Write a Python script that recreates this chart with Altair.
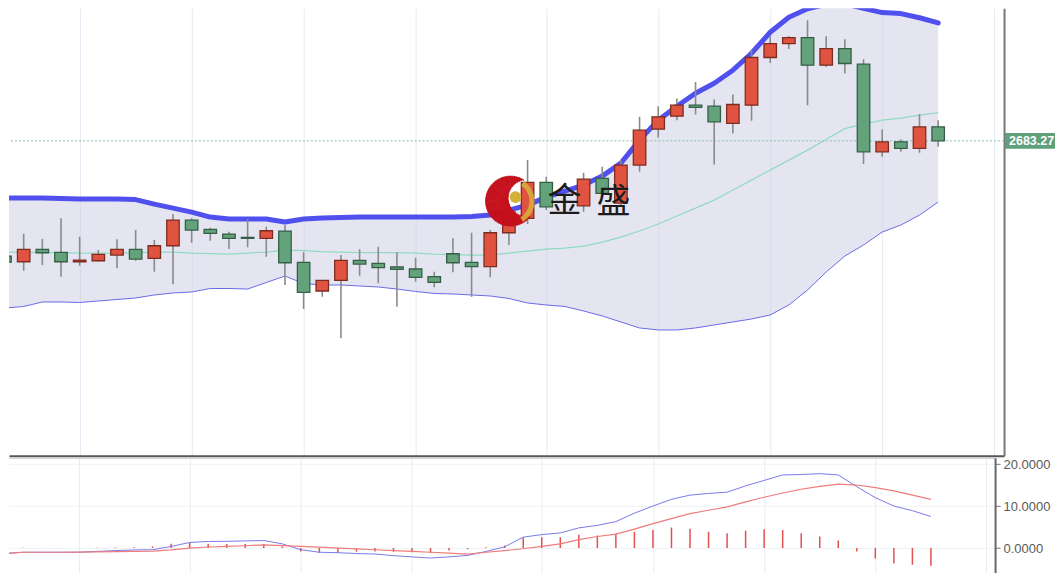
import math
import altair as alt
import pandas as pd
import numpy as np

# ---------------- data ----------------
idx = list(range(51))
opens = [2568, 2562.3, 2574.7, 2571.7, 2562.3, 2563.3, 2569, 2574.7, 2565.7, 2578.3,
         2604, 2594.7, 2590, 2586.7, 2585.7, 2593, 2561.7, 2533, 2543.7, 2563.7,
         2560.7, 2557, 2555, 2547.3, 2570.3, 2561.7, 2557.3, 2591.3, 2605.7, 2641.7,
         None, 2618.3, 2645.7, 2621, 2659, 2695, 2708, 2719, 2718, 2700.7,
         2719, 2766.7, 2780.7, 2786.7, 2759, 2775.7, 2760, 2672.3, 2682.3, 2675.7, 2697.3]
closes = [2562, 2574.7, 2571.3, 2562.3, 2564, 2569.7, 2574.7, 2565, 2578.3, 2604,
          2594, 2590.7, 2585.7, 2585.7, 2593.3, 2561.3, 2531.7, 2543.7, 2563.7, 2560,
          2556.3, 2554.7, 2546.7, 2541.7, 2561.3, 2557.3, 2591.3, 2612, 2641.7, 2617.3,
          None, 2645, 2630.7, 2659, 2694, 2707.3, 2719, 2716.7, 2702.3, 2719.7,
          2766.7, 2780.7, 2786.7, 2759, 2775.7, 2760.7, 2672.3, 2682.3, 2675.7, 2697.3, 2683.27]
highs = [2577, 2590.3, 2585, 2605.7, 2587.3, 2574, 2584.7, 2594, 2584, 2610,
         2605.7, 2596.3, 2592.3, 2605, 2597.3, 2599, 2571.7, 2544, 2569, 2574.7,
         2577.3, 2571.7, 2566.3, 2552.3, 2585.7, 2591.3, 2594, 2619, 2664, 2647.3,
         None, 2651.3, 2657.3, 2664, 2707.3, 2718, 2725.7, 2742.3, 2724.7, 2729.7,
         2774.7, 2788.3, 2788.3, 2804, 2788, 2785, 2765, 2694.7, 2684.7, 2710, 2704]
lows = [2545, 2553.3, 2559, 2547.3, 2558.3, 2562.5, 2555.7, 2563.3, 2552.3, 2539.7,
        2581.3, 2583.3, 2575, 2576.7, 2567.3, 2539, 2515, 2527.3, 2485.7, 2548.3,
        2540.7, 2517.3, 2542.3, 2536.7, 2551.7, 2527.3, 2546.7, 2579, 2600, 2614,
        None, 2612.3, 2627.3, 2617, 2652.3, 2686.7, 2704, 2709.7, 2659.7, 2690.7,
        2703.3, 2761.3, 2775.3, 2719, 2757.3, 2750.7, 2660, 2667.3, 2672.3, 2671.3, 2677.3]

bb_upper = [2626, 2626, 2626, 2625.5, 2625, 2625, 2625, 2624.5, 2620, 2616,
            2612, 2607, 2605, 2605, 2605, 2602, 2605, 2606, 2606.5, 2607,
            2607, 2607, 2607, 2607, 2607, 2607.5, 2609, 2614, 2619, 2627,
            2633, 2639, 2648, 2661, 2684, 2704, 2718, 2731, 2741, 2754,
            2771, 2792, 2807, 2815.5, 2820, 2820.5, 2816, 2811.7, 2810.7, 2806.5, 2801.3]
bb_mid = [2572, 2572, 2571.5, 2571.5, 2571, 2571, 2571, 2571.5, 2572, 2572,
          2571, 2570.5, 2570, 2571, 2572, 2574, 2573.5, 2572.5, 2572, 2571.5,
          2571.5, 2571.5, 2571, 2570, 2569.5, 2569, 2569, 2571, 2573, 2575,
          2576, 2578, 2582, 2587, 2593, 2600, 2608, 2616, 2624, 2634,
          2644, 2654, 2664, 2674, 2685, 2695.5, 2700, 2704, 2706, 2709, 2711.5]
bb_lower = [2516, 2517.5, 2522, 2522, 2521.5, 2523, 2524.5, 2526, 2529, 2531,
            2532, 2535.5, 2535.5, 2535, 2541.5, 2548, 2540.5, 2539, 2539, 2538,
            2537, 2535, 2532.5, 2530.5, 2530, 2529, 2528, 2525.5, 2521, 2519,
            2517.5, 2513, 2508, 2502, 2496, 2494, 2494, 2496, 2499, 2502,
            2505, 2509, 2519, 2534, 2552, 2568, 2579, 2592, 2599, 2609, 2622]

dif = [-1.3, -1.0, -1.0, -1.0, -1.0, -0.8, -0.6, -0.45, -0.4, 0.38,
       1.33, 1.57, 1.6, 1.7, 1.8, 1.0, -0.4, -1.0, -1.1, -1.3,
       -1.42, -1.8, -2.1, -2.37, -2.1, -1.75, -0.8, 0.3, 2.6, 3.2,
       3.6, 4.8, 5.4, 6.3, 8.3, 10.0, 11.6, 12.6, 13.0, 13.3,
       14.8, 16.1, 17.4, 17.5, 17.7, 17.4, 14.6, 12.0, 10.0, 8.9, 7.5]
dea = [-1.35, -1.0, -1.0, -1.0, -0.95, -0.9, -0.85, -0.8, -0.75, -0.45,
       0.0, 0.25, 0.4, 0.55, 0.78, 0.6, 0.38, 0.2, 0.0, -0.2,
       -0.4, -0.6, -0.8, -1.0, -1.2, -1.42, -1.0, -0.6, -0.17, 0.38,
       1.0, 2.0, 2.75, 3.3, 4.5, 5.8, 7.0, 8.2, 9.0, 9.8,
       11.0, 12.1, 13.1, 14.0, 14.7, 15.2, 15.0, 14.4, 13.6, 12.6, 11.6]
macd_hist = [0.1, 0.1, 0.0, 0.0, 0.0, 0.05, 0.15, 0.2, 0.35, 1.0,
             1.35, 1.0, 0.95, 0.95, 0.95, 0.4, -0.8, -1.2, -1.2, -0.9,
             -0.8, -0.9, -1.0, -1.2, -0.6, -0.3, 0.2, 0.6, 2.6, 2.6,
             2.6, 3.15, 3.0, 3.4, 3.9, 4.3, 4.9, 4.6, 3.9, 3.55,
             4.1, 4.5, 4.3, 3.55, 2.75, 1.8, -0.8, -2.5, -3.7, -3.95, -4.2]

grid_idx = [4, 10, 16, 22, 29, 35, 41, 47, 53]
macd_ticks = [0, 10, 20]
last_label = "2683.270"
wm_left, wm_right = "金", "盛"

# ---------------- tables ----------------
df = pd.DataFrame({"i": idx, "open": opens, "close": closes, "high": highs, "low": lows,
                   "upper": bb_upper, "mid": bb_mid, "lower": bb_lower,
                   "dif": dif, "dea": dea, "hist": macd_hist})
candles = df.dropna(subset=["open"]).copy()
candles["dir"] = np.where(candles["close"] >= candles["open"], "up", "down")
last = pd.DataFrame({"close": [closes[-1]], "label": [last_label]})
one = pd.DataFrame({"k": [0]})

# crescent outline for the watermark logo (outer circle minus an offset circle)
R_OUT, CUT_DX, CUT_DY, CUT_R = 25.0, 16.0, -3.0, 18.5
steps = 90
rows = []
for k in range(steps):
    a0 = 2 * math.pi * k / steps
    phi = a0 + math.pi / steps
    ux, uy = math.sin(phi), -math.cos(phi)
    b = ux * CUT_DX + uy * CUT_DY
    t = b + math.sqrt(b * b - (CUT_DX ** 2 + CUT_DY ** 2) + CUT_R ** 2)
    if t < R_OUT - 0.5:
        rows.append({"t1": a0, "t2": a0 + 2 * math.pi / steps + 0.012, "ri": max(t, 0.0), "ro": R_OUT})
logo_df = pd.DataFrame(rows)

FONT = "Liberation Sans"

# ---------------- top panel ----------------
xs_top = alt.Scale(domain=[0.214, 53.53], nice=False, zero=False, padding=0)
ys_top = alt.Scale(domain=[2368, 2816], nice=False, zero=False, padding=0)
x_axis_top = alt.Axis(values=grid_idx, labels=False, ticks=False, title=None,
                      domain=True, domainColor="#555555", domainWidth=2,
                      grid=True, gridColor="#e3eaf1", gridWidth=1)
y_axis_top = alt.Axis(orient="right", labels=False, ticks=False, title=None, grid=False,
                      domain=True, domainColor="#777777", domainWidth=2)


def XT():
    return alt.X("i:Q", scale=xs_top, axis=x_axis_top)


def YT(field):
    return alt.Y(field, scale=ys_top, axis=y_axis_top)


base = alt.Chart(df)
band = base.mark_area(color="#c5c5e2", opacity=0.45, clip=True).encode(
    x=XT(), y=YT("lower:Q"), y2="upper:Q")
upper_line = base.mark_line(color="#5050ee", strokeWidth=5, clip=True,
                            strokeCap="round", strokeJoin="round").encode(x=XT(), y=YT("upper:Q"))
mid_line = base.mark_line(color="#90dbc0", strokeWidth=1.2, clip=True).encode(x=XT(), y=YT("mid:Q"))
lower_line = base.mark_line(color="#6a6ae6", strokeWidth=1, clip=True).encode(x=XT(), y=YT("lower:Q"))

price_line = alt.Chart(last).mark_rule(color="#86c2a5", strokeDash=[2, 2], strokeWidth=1).encode(
    y=YT("close:Q"))

cbase = alt.Chart(candles)
wicks = cbase.mark_rule(color="#8a8a8a", strokeWidth=1.6, clip=True).encode(
    x=XT(), y=YT("low:Q"), y2="high:Q")
bodies = cbase.mark_bar(width=12.5, strokeWidth=1.3, clip=True).encode(
    x=XT(), y=YT("open:Q"), y2="close:Q",
    color=alt.Color("dir:N", scale=alt.Scale(domain=["up", "down"], range=["#df5340", "#64a27c"]), legend=None),
    stroke=alt.Stroke("dir:N", scale=alt.Scale(domain=["up", "down"], range=["#7d2c20", "#345f45"]), legend=None))

# watermark logo + text
LX, LY = 502, 193
crescent = alt.Chart(logo_df).mark_arc(color="#c4101c", stroke="#c4101c", strokeWidth=0.6).encode(
    theta=alt.Theta("t1:Q", scale=None, stack=False), theta2="t2:Q",
    radius=alt.Radius("ro:Q", scale=None), radius2="ri:Q",
    x=alt.value(LX), y=alt.value(LY))
swoosh = alt.Chart(one).mark_arc(radius=24, radius2=19, theta=0.6, theta2=2.6,
                                 color="#d8b13c", opacity=0.85).encode(x=alt.value(LX), y=alt.value(LY))
ball = alt.Chart(one).mark_circle(size=140, color="#d4b23a", opacity=1).encode(
    x=alt.value(507), y=alt.value(189))
wm1 = alt.Chart(one).mark_text(text=wm_left, font="Noto Sans CJK SC", fontSize=34,
                               color="#1c1c1c").encode(x=alt.value(556), y=alt.value(194))
wm2 = alt.Chart(one).mark_text(text=wm_right, font="Noto Sans CJK SC", fontSize=34,
                               color="#1c1c1c").encode(x=alt.value(605), y=alt.value(195))

# last price label
label_box = alt.Chart(last).transform_calculate(
    ytop="datum.close + 8", ybot="datum.close - 8").mark_rect(color="#5f9f79").encode(
    x=alt.value(997), x2=alt.value(1047), y=YT("ytop:Q"), y2="ybot:Q")
label_text = alt.Chart(last).mark_text(align="left", baseline="middle", font=FONT, fontSize=12.5,
                                       fontWeight="bold", color="white", limit=46,
                                       ellipsis="\u200b").encode(
    x=alt.value(1001), y=YT("close:Q"), text="label:N")

top = alt.layer(band, upper_line, mid_line, lower_line, price_line, wicks, bodies,
                crescent, swoosh, ball, wm1, wm2, label_box, label_text).properties(
    width=996, height=448)

# ---------------- bottom panel ----------------
xs_bot = alt.Scale(domain=[0.253, 53.46], nice=False, zero=False, padding=0)
ys_bot = alt.Scale(domain=[-5.87, 21.47], nice=False, zero=False, padding=0)
x_axis_bot = alt.Axis(orient="top", values=grid_idx, labels=False, ticks=False, title=None,
                      domain=True, domainColor="#c8c8c8", domainWidth=1,
                      grid=True, gridColor="#e6edf3", gridWidth=1)
y_axis_bot = alt.Axis(orient="right", values=macd_ticks, format=".4f", title=None,
                      labelColor="#5a5a5a", labelFont=FONT, labelFontSize=13, labelPadding=3,
                      ticks=True, tickColor="#777777", tickSize=5,
                      domain=True, domainColor="#666666", domainWidth=2,
                      grid=True, gridColor="#edf1f5")


def XB():
    return alt.X("i:Q", scale=xs_bot, axis=x_axis_bot)


def YB(field):
    return alt.Y(field, scale=ys_bot, axis=y_axis_bot)


mb = alt.Chart(df)
hist = mb.mark_rule(color="#e35050", strokeWidth=1.5, clip=True).encode(
    x=XB(), y=YB("hist:Q"), y2=alt.datum(0))
dif_line = mb.mark_line(color="#7a7ae8", strokeWidth=1, clip=True).encode(x=XB(), y=YB("dif:Q"))
dea_line = mb.mark_line(color="#ee7c7c", strokeWidth=1.2, clip=True).encode(x=XB(), y=YB("dea:Q"))

bottom = alt.layer(hist, dif_line, dea_line).properties(width=987, height=115)

chart = alt.vconcat(top, bottom, spacing=2, bounds="flush").properties(
    padding=0, background="white").configure(font=FONT).configure_view(stroke=None)

chart.save("out.html", embed_options={"renderer": "svg", "actions": False})
